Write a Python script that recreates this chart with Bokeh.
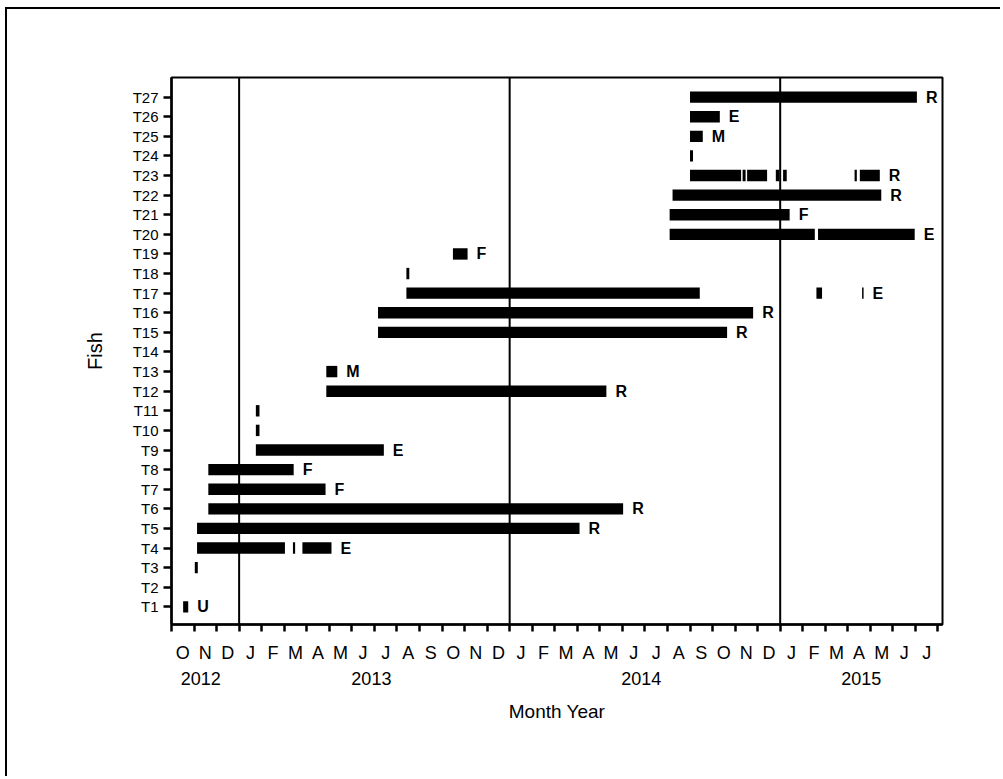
import calendar
from bokeh.plotting import figure
from bokeh.models import FixedTicker, Span, LinearAxis, Range1d
from bokeh.embed import file_html
from bokeh.resources import INLINE
from bokeh.core.properties import value

# ---------------- data ----------------
fish_ids = list(range(1, 28))
fish_tick_labels = [f"T{i}" for i in fish_ids]

# detection segments: fish number, first and last date of each segment
seg_fish = [1, 3, 4, 4, 4, 5, 6, 7, 8, 9, 10, 11, 12, 13, 15, 16,
            17, 17, 17, 18, 19, 20, 20, 21, 22,
            23, 23, 23, 23, 23, 23, 23, 24, 25, 26, 27]
seg_start = ["2012-10-17", "2012-11-02", "2012-11-05", "2013-03-13", "2013-03-26",
             "2012-11-05", "2012-11-20", "2012-11-20", "2012-11-20", "2013-01-24",
             "2013-01-24", "2013-01-24", "2013-04-27", "2013-04-27", "2013-07-06",
             "2013-07-06", "2013-08-14", "2015-02-18", "2015-04-20", "2013-08-14",
             "2013-10-16", "2014-08-04", "2015-02-20", "2014-08-04", "2014-08-08",
             "2014-09-01", "2014-11-11", "2014-11-17", "2014-12-26", "2015-01-05",
             "2015-04-10", "2015-04-17", "2014-09-01", "2014-09-01", "2014-09-01",
             "2014-09-01"]
seg_end = ["2012-10-24", "2012-11-06", "2013-03-02", "2013-03-16", "2013-05-04",
           "2014-04-04", "2014-06-02", "2013-04-26", "2013-03-14", "2013-07-14",
           "2013-01-29", "2013-01-29", "2014-05-10", "2013-05-12", "2014-10-21",
           "2014-11-25", "2014-09-14", "2015-02-25", "2015-04-22", "2013-08-18",
           "2013-11-05", "2015-02-16", "2015-06-30", "2015-01-14", "2015-05-16",
           "2014-11-09", "2014-11-15", "2014-12-14", "2014-12-31", "2015-01-10",
           "2015-04-13", "2015-05-14", "2014-09-05", "2014-09-18", "2014-10-11",
           "2015-07-03"]

# fate codes
fate_fish = [1, 4, 5, 6, 7, 8, 9, 12, 13, 15, 16, 17, 19, 20, 21, 22, 23, 25, 26, 27]
fate_code = ["U", "E", "R", "R", "F", "F", "E", "R", "M", "R",
             "R", "E", "F", "E", "F", "R", "R", "M", "E", "R"]

month_labels = list("ONDJFMAMJJASONDJFMAMJJASONDJFMAMJJ")
year_labels = ["2012", "2013", "2014", "2015"]
year_label_dates = ["2012-11-10", "2013-06-27", "2014-06-26", "2015-04-19"]
year_lines = ["2013-01-01", "2014-01-01", "2015-01-01"]


def mpos(s):
    """months since 1 Oct 2012"""
    y, mo, d = map(int, s.split("-"))
    return (y - 2012) * 12 + (mo - 10) + (d - 1) / calendar.monthrange(y, mo)[1]


xs0 = [mpos(s) for s in seg_start]
xs1 = [mpos(s) for s in seg_end]

fate_x = []
for f in fate_fish:
    fate_x.append(max(e for e, ff in zip(xs1, seg_fish) if ff == f))

FONT = "Liberation Sans"

W, H = 1000, 776
p = figure(width=W, height=H, output_backend="svg", toolbar_location=None,
           x_range=Range1d(0, 34.2), y_range=Range1d(0.1, 28.0),
           min_border_left=171, min_border_right=58, min_border_top=77,
           min_border_bottom=152)
# outer picture border: left and top edges, drawn behind a transparent canvas margin
p.border_fill_color = None
p.background_fill_color = "white"
p.styles = {
    "background-color": "white",
    "background-image": "linear-gradient(black, black), linear-gradient(black, black)",
    "background-size": "2px 100%, 100% 2px",
    "background-position": "5px 7px, 5px 7px",
    "background-repeat": "no-repeat",
}
p.xgrid.visible = False
p.ygrid.visible = False
p.outline_line_color = "black"
p.outline_line_width = 2
p.outline_line_alpha = 1

half = 0.29
p.quad(left=xs0, right=xs1, bottom=[f - half for f in seg_fish],
       top=[f + half for f in seg_fish], fill_color="black", line_color=None)

for d in year_lines:
    p.add_layout(Span(location=mpos(d), dimension="height", line_color="black",
                      line_width=2))

p.text(x=fate_x, y=fate_fish, text=fate_code, x_offset=9,
       text_baseline="middle", text_align="left",
       text_font=value(FONT), text_font_style="bold", text_font_size="16px",
       text_color="black")

# x axis: month starts as ticks, month initials centered in each month
xa = p.xaxis[0]
mids = [i + 0.5 for i in range(len(month_labels))]
xa.ticker = FixedTicker(ticks=mids, minor_ticks=list(range(len(month_labels) + 1)))
xa.major_label_overrides = {m: l for m, l in zip(mids, month_labels)}
xa.major_tick_out = 0
xa.major_tick_in = 0
xa.minor_tick_out = 7
xa.minor_tick_in = 0
xa.minor_tick_line_width = 2.5
xa.minor_tick_line_color = "black"
xa.axis_line_width = 2.5
xa.axis_line_color = "black"
xa.major_label_text_font = FONT
xa.major_label_text_font_size = "18px"
xa.major_label_text_color = "black"
xa.major_label_standoff = 11

ypos = [mpos(s) for s in year_label_dates]
xa2 = LinearAxis(ticker=FixedTicker(ticks=ypos, minor_ticks=[]),
                 major_label_overrides={v: l for v, l in zip(ypos, year_labels)},
                 axis_line_color=None, major_tick_line_color=None,
                 minor_tick_line_color=None,
                 major_label_text_font=FONT, major_label_text_font_size="18px",
                 major_label_text_color="black", major_label_standoff=0,
                 axis_label="Month Year", axis_label_text_font=FONT,
                 axis_label_text_font_size="19px", axis_label_text_font_style="normal",
                 axis_label_text_color="black", axis_label_standoff=13)
p.add_layout(xa2, "below")

ya = p.yaxis[0]
ya.ticker = FixedTicker(ticks=fish_ids, minor_ticks=[])
ya.major_label_overrides = {i: l for i, l in zip(fish_ids, fish_tick_labels)}
ya.major_tick_out = 8
ya.major_tick_in = 0
ya.major_tick_line_width = 2.5
ya.axis_line_width = 2.5
ya.axis_line_color = "black"
ya.major_label_text_font = FONT
ya.major_label_text_font_size = "15px"
ya.major_label_text_color = "black"
ya.major_label_standoff = 5
ya.axis_label = "Fish"
ya.axis_label_text_font = FONT
ya.axis_label_text_font_size = "20px"
ya.axis_label_text_font_style = "normal"
ya.axis_label_text_color = "black"
ya.axis_label_standoff = 24

open("out.html", "w").write(file_html(p, INLINE))
